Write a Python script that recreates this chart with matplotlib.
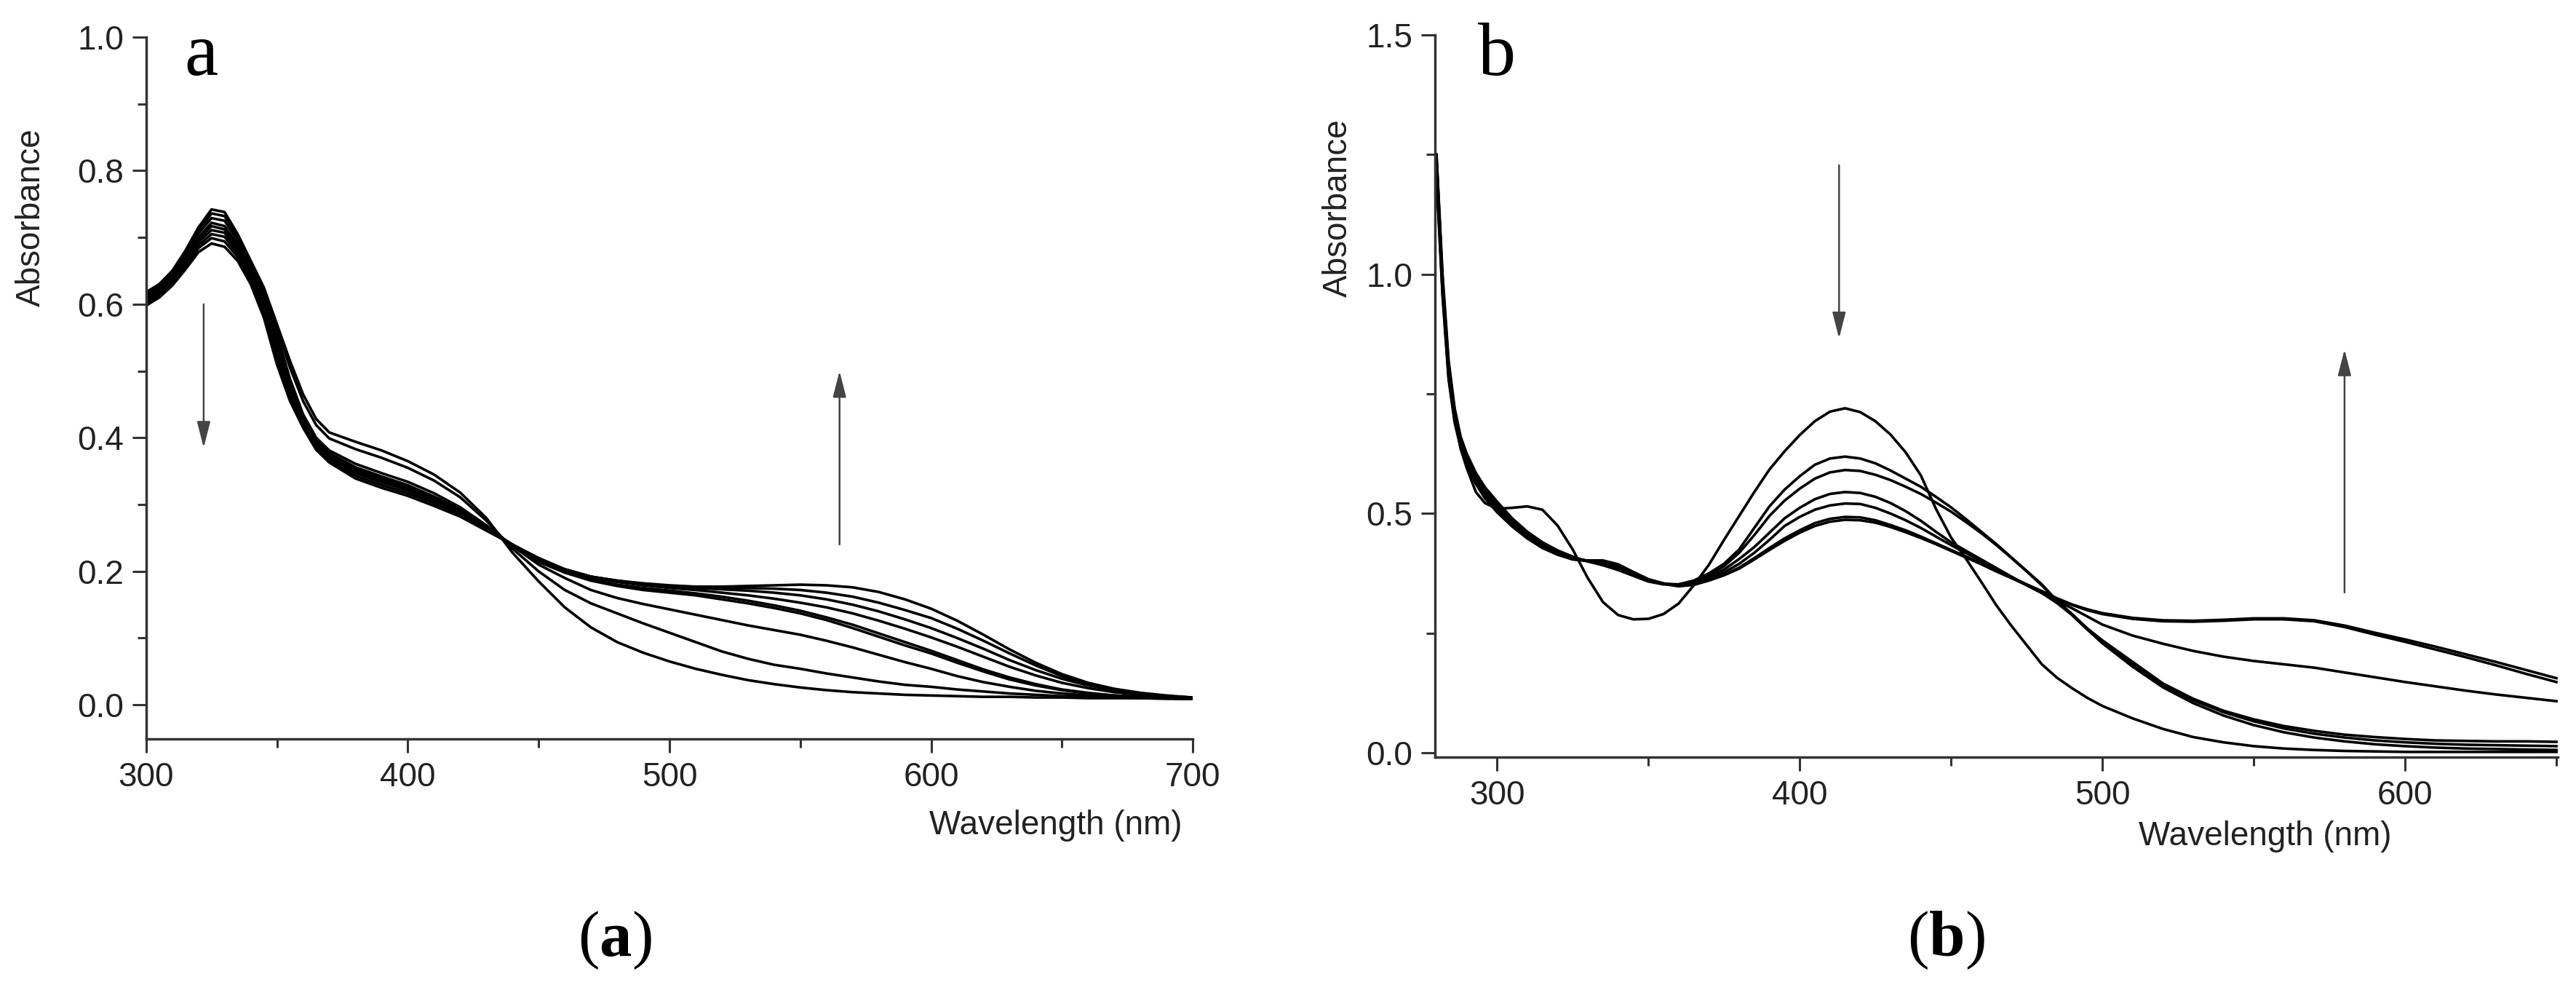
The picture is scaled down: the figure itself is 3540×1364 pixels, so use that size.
import matplotlib
matplotlib.use("Agg")
import matplotlib.pyplot as plt
from matplotlib.ticker import MultipleLocator

# ---- panel a: spectra (9 traces) ----
wl_a = [300, 305, 310, 315, 320, 325, 330, 335, 340, 345, 350, 355, 360, 365, 370,
        380, 390, 400, 410, 420, 430, 440, 450, 460, 470, 480, 490, 500, 510, 520,
        530, 540, 550, 560, 570, 580, 590, 600, 610, 620, 630, 640, 650, 660, 670,
        680, 690, 700]

a0 = [.618, .630, .650, .680, .715, .742, .738, .705, .665, .625, .570, .515, .465, .428, .408,
      .394, .381, .365, .345, .318, .280, .228, .185, .146, .116, .094, .078, .065, .054, .045,
      .037, .031, .026, .022, .019, .017, .015, .014, .013, .012, .012, .011, .011, .010, .010,
      .010, .009, .009]
a1 = [.616, .628, .647, .677, .710, .736, .732, .700, .661, .619, .563, .505, .455, .419, .399,
      .383, .370, .355, .336, .311, .276, .234, .200, .172, .152, .137, .122, .108, .094, .080,
      .069, .060, .054, .047, .041, .035, .030, .027, .023, .020, .017, .015, .013, .012, .011,
      .010, .010, .009]
a2 = [.613, .625, .645, .673, .706, .729, .725, .695, .656, .614, .555, .488, .435, .400, .381,
      .361, .347, .334, .317, .296, .269, .238, .210, .190, .172, .160, .151, .143, .135, .127,
      .119, .112, .105, .096, .086, .075, .064, .054, .043, .034, .027, .021, .017, .014, .012,
      .011, .010, .009]
a3 = [.610, .622, .641, .669, .700, .722, .717, .689, .651, .607, .546, .482, .430, .396, .377,
      .356, .342, .329, .312, .293, .267, .239, .214, .198, .186, .178, .172, .168, .164, .158,
      .152, .145, .137, .127, .115, .102, .089, .077, .063, .050, .038, .029, .022, .017, .014,
      .012, .010, .009]
a4 = [.608, .620, .639, .666, .697, .717, .712, .685, .648, .603, .540, .478, .428, .394, .374,
      .353, .339, .326, .310, .291, .266, .239, .215, .200, .188, .180, .175, .171, .167, .162,
      .156, .149, .141, .131, .120, .107, .094, .081, .067, .053, .041, .031, .023, .018, .014,
      .012, .010, .009]
a5 = [.606, .618, .637, .663, .693, .711, .707, .681, .644, .598, .534, .473, .425, .391, .372,
      .350, .336, .323, .307, .289, .265, .240, .217, .202, .191, .184, .179, .175, .172, .168,
      .164, .159, .153, .146, .137, .126, .114, .101, .087, .072, .057, .044, .033, .025, .019,
      .015, .012, .010]
a6 = [.604, .616, .634, .660, .688, .705, .701, .676, .640, .593, .527, .468, .423, .389, .370,
      .347, .333, .321, .305, .287, .264, .240, .218, .203, .192, .185, .180, .177, .175, .173,
      .171, .168, .164, .158, .150, .140, .128, .115, .100, .084, .067, .052, .039, .029, .022,
      .016, .013, .010]
a7 = [.601, .613, .631, .656, .684, .699, .694, .671, .635, .587, .519, .462, .419, .386, .367,
      .343, .329, .317, .302, .285, .263, .240, .219, .203, .192, .186, .181, .178, .176, .175,
      .175, .174, .172, .168, .162, .153, .142, .130, .114, .096, .077, .059, .043, .031, .023,
      .017, .013, .011]
a8 = [.598, .610, .628, .652, .678, .691, .686, .665, .630, .580, .510, .455, .415, .382, .363,
      .339, .325, .313, .298, .282, .261, .240, .220, .203, .192, .186, .182, .179, .177, .177,
      .178, .179, .180, .179, .176, .169, .158, .144, .126, .105, .083, .063, .046, .033, .024,
      .018, .014, .011]
spectra_a = [a0, a1, a2, a3, a4, a5, a6, a7, a8]

# ---- panel b: spectra (7 traces) ----
wl_b = [280, 282, 284, 286, 288, 290, 293, 296,
        300, 305, 310, 315, 320, 325, 330, 335, 340, 345, 350, 355, 360, 365, 370, 375,
        380, 385, 390, 395, 400, 405, 410, 415, 420, 425, 430, 435, 440, 445, 450, 455,
        460, 465, 470, 475, 480, 485, 490, 495, 500,
        510, 520, 530, 540, 550, 560, 570, 580, 590, 600, 610, 620, 630, 640, 650]

b0 = [1.25, .98, .80, .70, .635, .595, .545, .522,
      .510, .512, .515, .508, .475, .425, .365, .315, .288, .279, .280, .290, .312, .350, .393, .445,
      .495, .545, .592, .630, .664, .693, .713, .720, .712, .693, .665, .628, .580, .510, .450, .405,
      .357, .308, .265, .225, .185, .157, .135, .115, .098,
      .072, .050, .033, .022, .014, .009, .006, .004, .003, .002, .002, .002, .002, .002, .002]
b1 = [1.25, 1.00, .82, .72, .66, .625, .585, .555,
      .525, .490, .462, .440, .423, .410, .400, .392, .382, .370, .358, .352, .352, .360, .375, .395,
      .425, .470, .515, .550, .578, .602, .615, .619, .615, .605, .590, .573, .556, .535, .513, .488,
      .462, .436, .408, .380, .352, .318, .290, .260, .235,
      .190, .145, .113, .088, .070, .056, .046, .038, .033, .029, .026, .025, .024, .024, .023]
b2 = [1.24, .99, .81, .715, .655, .62, .58, .55,
      .520, .485, .458, .437, .420, .408, .400, .395, .385, .372, .360, .353, .352, .358, .372, .390,
      .418, .455, .495, .527, .552, .573, .586, .591, .589, .581, .570, .556, .541, .523, .504, .482,
      .459, .434, .407, .379, .350, .317, .288, .258, .232,
      .185, .142, .110, .085, .066, .051, .040, .032, .026, .022, .019, .017, .016, .015, .014]
b3 = [1.23, .98, .80, .71, .65, .615, .575, .545,
      .515, .482, .455, .435, .418, .407, .401, .398, .388, .374, .361, .353, .351, .356, .368, .383,
      .405, .430, .460, .490, .512, .530, .541, .545, .543, .535, .522, .505, .485, .462, .440, .422,
      .404, .386, .368, .351, .334, .313, .288, .258, .229,
      .180, .137, .104, .078, .058, .043, .032, .024, .018, .014, .011, .009, .008, .007, .006]
b4 = [1.22, .97, .79, .70, .645, .61, .57, .54,
      .510, .478, .452, .432, .416, .406, .401, .400, .391, .376, .362, .354, .350, .354, .364, .377,
      .395, .418, .445, .474, .493, .508, .517, .521, .520, .512, .500, .486, .470, .452, .434, .417,
      .400, .383, .366, .350, .334, .318, .302, .285, .268,
      .245, .228, .213, .201, .192, .185, .178, .168, .158, .148, .139, .130, .122, .115, .108]
b5 = [1.21, .96, .785, .695, .64, .605, .565, .535,
      .505, .475, .450, .430, .415, .405, .402, .402, .394, .378, .363, .354, .349, .352, .361, .372,
      .387, .407, .428, .448, .465, .480, .489, .493, .492, .486, .476, .465, .452, .438, .424, .410,
      .395, .380, .366, .352, .338, .323, .310, .300, .292,
      .282, .277, .276, .278, .281, .281, .277, .266, .251, .237, .222, .206, .190, .173, .156]
b6 = [1.20, .955, .78, .69, .637, .602, .562, .532,
      .503, .473, .448, .428, .414, .404, .401, .401, .393, .377, .362, .353, .348, .351, .360, .371,
      .385, .404, .424, .443, .460, .474, .483, .487, .486, .481, .472, .461, .449, .436, .422, .408,
      .394, .379, .365, .351, .337, .322, .309, .298, .290,
      .280, .275, .274, .276, .279, .279, .275, .263, .247, .232, .216, .200, .183, .165, .148]
spectra_b = [b0, b1, b2, b3, b4, b5, b6]

plt.rcParams["font.family"] = ["Liberation Sans", "DejaVu Sans"]
plt.rcParams["mathtext.fontset"] = "custom"
plt.rcParams["mathtext.rm"] = "Liberation Serif"
plt.rcParams["mathtext.bf"] = "Liberation Serif:bold"

axis_col = "#333333"
text_col = "#222222"


def style_axes(ax):
    ax.spines["top"].set_visible(False)
    ax.spines["right"].set_visible(False)
    for side in ["left", "bottom"]:
        ax.spines[side].set_linewidth(2.5)
        ax.spines[side].set_color(axis_col)
    ax.tick_params(which="major", direction="out", length=14, width=2.2,
                   colors=axis_col, labelcolor=text_col, labelsize=33, pad=8)
    ax.tick_params(which="minor", direction="out", length=8.5, width=2.2,
                   colors=axis_col)


def add_arrow(ax, x, y_from, y_to):
    ax.annotate("", xy=(x, y_to), xytext=(x, y_from),
                arrowprops=dict(arrowstyle="-|>,head_length=0.55,head_width=0.14",
                                lw=1.8, color="#444444", shrinkA=0, shrinkB=0,
                                mutation_scale=40))


fig = plt.figure(figsize=(35.41, 13.64), dpi=100)

# Панель a
ax_a = fig.add_axes([0.0567, 0.2559, 0.4062, 0.7067])
for s in spectra_a:
    ax_a.plot(wl_a, s, color="black", lw=2.6)
ax_a.set_xlim(300, 700)
ax_a.set_ylim(-0.051, 1.0)
ax_a.xaxis.set_major_locator(MultipleLocator(100))
ax_a.xaxis.set_minor_locator(MultipleLocator(50))
ax_a.yaxis.set_major_locator(MultipleLocator(0.2))
ax_a.yaxis.set_minor_locator(MultipleLocator(0.1))
ax_a.yaxis.set_major_formatter(plt.FuncFormatter(lambda v, p: f"{v:.1f}"))
style_axes(ax_a)
ax_a.set_ylabel("Absorbance", fontsize=33, color=text_col)
ax_a.yaxis.label.set_va("center")
ax_a.yaxis.set_label_coords(-0.1096, 0.743)
ax_a.set_xlabel("Wavelength (nm)", fontsize=33, color=text_col)
ax_a.xaxis.label.set_ha("right")
ax_a.xaxis.label.set_va("center")
ax_a.xaxis.set_label_coords(0.990, -0.123)
ax_a.text(321, 0.943, "a", family="Liberation Serif", fontsize=75,
          ha="center", va="baseline")
add_arrow(ax_a, 322, 0.60, 0.385)
add_arrow(ax_a, 565, 0.24, 0.50)

# Панель b
ax_b = fig.add_axes([0.5569, 0.2375, 0.4358, 0.7273])
for s in spectra_b:
    ax_b.plot(wl_b, s, color="black", lw=2.6)
ax_b.set_xlim(279.5, 650.5)
ax_b.set_ylim(-0.009, 1.5)
ax_b.xaxis.set_major_locator(MultipleLocator(100))
ax_b.xaxis.set_minor_locator(MultipleLocator(50))
ax_b.yaxis.set_major_locator(MultipleLocator(0.5))
ax_b.yaxis.set_minor_locator(MultipleLocator(0.25))
ax_b.yaxis.set_major_formatter(plt.FuncFormatter(lambda v, p: f"{v:.1f}"))
style_axes(ax_b)
ax_b.set_ylabel("Absorbance", fontsize=33, color=text_col)
ax_b.yaxis.label.set_va("center")
ax_b.yaxis.set_label_coords(-0.0862, 0.760)
ax_b.set_xlabel("Wavelength (nm)", fontsize=33, color=text_col)
ax_b.xaxis.label.set_ha("right")
ax_b.xaxis.label.set_va("center")
ax_b.xaxis.set_label_coords(0.852, -0.110)
ax_b.text(300, 1.416, "b", family="Liberation Serif", fontsize=75,
          ha="center", va="baseline")
add_arrow(ax_b, 413, 1.228, 0.866)
add_arrow(ax_b, 580, 0.335, 0.843)

# подписи панелей
fig.text(0.2386, 0.0528, r"($\mathbf{a}$)", family="Liberation Serif",
         fontsize=64, ha="center", va="center")
fig.text(0.7552, 0.0528, r"($\mathbf{b}$)", family="Liberation Serif",
         fontsize=64, ha="center", va="center")

fig.savefig("out.png", dpi=100, facecolor="white")
